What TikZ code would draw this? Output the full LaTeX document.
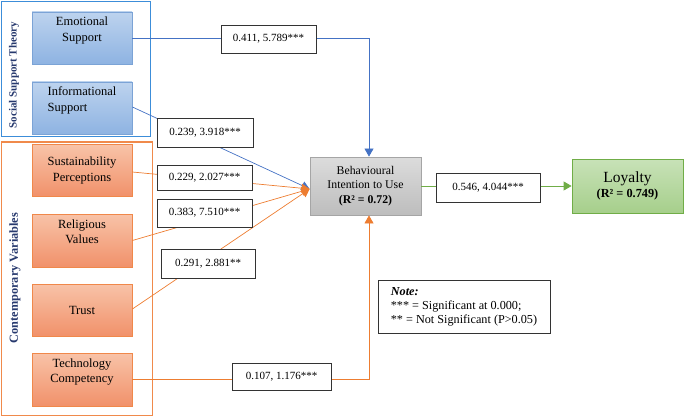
\documentclass[tikz,border=0pt]{standalone}
\usepackage{fontspec}
\setmainfont{Liberation Serif}
\usetikzlibrary{arrows.meta}
\definecolor{btop}{HTML}{BDD3EE}
\definecolor{bbot}{HTML}{8EB3E2}
\definecolor{bbord}{HTML}{7BA3D6}
\definecolor{otop}{HTML}{F8C3A8}
\definecolor{obot}{HTML}{F1916A}
\definecolor{obord}{HTML}{F0884A}
\definecolor{gtop}{HTML}{DCDCDC}
\definecolor{gbot}{HTML}{BDBDBD}
\definecolor{gbord}{HTML}{A5A5A5}
\definecolor{ltop}{HTML}{C8E2B8}
\definecolor{lbot}{HTML}{A6CF8B}
\definecolor{lbord}{HTML}{70AD47}
\definecolor{bline}{HTML}{4472C4}
\definecolor{oline}{HTML}{ED7D31}
\definecolor{gline}{HTML}{70AD47}
\definecolor{fblue}{HTML}{3C8DD9}
\definecolor{forange}{HTML}{F08A4B}
\definecolor{dblue}{HTML}{27396E}
\begin{document}
\begin{tikzpicture}[x=1pt,y=-1pt,
  boxtxt/.style={font=\fontsize{12.5}{15.5}\selectfont, align=center, inner sep=0pt,
    minimum width=100pt, minimum height=52pt, line width=0.8pt},
  bluebox/.style={boxtxt, draw=bbord, top color=btop, bottom color=bbot},
  orangebox/.style={boxtxt, draw=obord, top color=otop, bottom color=obot},
  lbl/.style={draw=black!80, fill=white, line width=0.7pt, inner sep=0pt,
    font=\fontsize{11}{13}\selectfont, minimum width=95pt, minimum height=28pt},
  bconn/.style={draw=bline, line width=0.7pt},
  oconn/.style={draw=oline, line width=0.7pt},
  tip/.style={-{Triangle[length=8pt,width=9pt]}},
  frametxt/.style={rotate=90, text=dblue, inner sep=0pt}
]
\useasboundingbox (0,0) rectangle (685,417);
% frames
\draw[fblue, line width=0.9pt] (1,1) rectangle (150,136);
\draw[forange, line width=1pt] (1,142) rectangle (152,415);
\node[frametxt, font=\bfseries\fontsize{11}{13}\selectfont] (sst) at (14,75) {Social Support Theory};
\node[frametxt, font=\bfseries\fontsize{12.3}{14}\selectfont] (cv) at (15,278) {Contemporary Variables};
% construct boxes
\node[bluebox] (es) at (82,38) {Emotional\\Support\\[2pt]};
\node[bluebox, align=left] (is) at (82,108) {Informational\\Support\\[2pt]};
\node[orangebox] (sp) at (82,170.5) {Sustainability\\Perceptions};
\node[orangebox, minimum height=53pt] (rv) at (82,240.5) {Religious\\Values\\[2pt]};
\node[orangebox] (tr) at (82,310) {Trust};
\node[orangebox, minimum height=53pt] (tc) at (82,379.5) {Technology\\Competency\\[2pt]};
\node[draw=gbord, line width=0.8pt, top color=gtop, bottom color=gbot, minimum width=111pt,
  minimum height=58pt, inner sep=0pt, align=center, font=\fontsize{11.8}{14.5}\selectfont]
  (biu) at (365.5,186) {Behavioural\\Intention to Use\\\textbf{(R² = 0.72)}};
\node[draw=lbord, line width=0.8pt, top color=ltop, bottom color=lbot, minimum width=111pt,
  minimum height=54pt, inner sep=0pt, align=center, font=\fontsize{12.3}{15.5}\selectfont]
  (loy) at (627.5,186) {{\fontsize{15.5}{15.5}\selectfont Loyalty}\\{\bfseries (R² = 0.749)}};
% connector end points
\coordinate (inW) at ([yshift=-3pt]biu.west);
\coordinate (inN) at ([xshift=3.5pt]biu.north);
\coordinate (inS) at ([xshift=3.5pt]biu.south);
% connectors
\draw[bconn, tip] (es.east) -| (inN);
\draw[bconn, tip] ([yshift=1pt]is.east) -- (inW);
\draw[oconn, tip] ([yshift=-1.5pt]sp.east) -- (inW);
\draw[oconn, tip] (rv.east) -- (inW);
\draw[oconn, tip] ([yshift=1pt]tr.east) -- (inW);
\draw[oconn, tip] (tc.east) -| (inS);
\draw[draw=gline, line width=0.8pt, tip] (biu.east) -- (loy.west);
% coefficient labels
\node[lbl] (l1) at (268.5,39) {0.411, 5.789***};
\node[lbl, minimum width=96pt, minimum height=29pt] (l2) at (205,132.5) {0.239, 3.918***};
\node[lbl, minimum height=25pt] (l3) at (204.5,177.5) {0.229, 2.027***};
\node[lbl] (l4) at (204.5,213) {0.383, 7.510***};
\node[lbl, minimum width=94pt, minimum height=29pt] (l5) at (208,263.5) {0.291, 2.881**};
\node[lbl, minimum width=104pt, minimum height=29pt] (l6) at (488,188) {0.546, 4.044***};
\node[lbl, minimum width=99pt, minimum height=27pt] (l7) at (281.5,376.5) {0.107, 1.176***};
% note
\node[draw=black!80, fill=white, line width=0.7pt, minimum width=172pt, minimum height=53pt,
  inner sep=0pt, align=left, font=\fontsize{12.2}{14}\selectfont] (note) at (464,306.5)
  {\textbf{\textit{Note:}}\\{}*** = Significant at 0.000;\\{}** = Not Significant (P>0.05)};
\end{tikzpicture}
\end{document}
